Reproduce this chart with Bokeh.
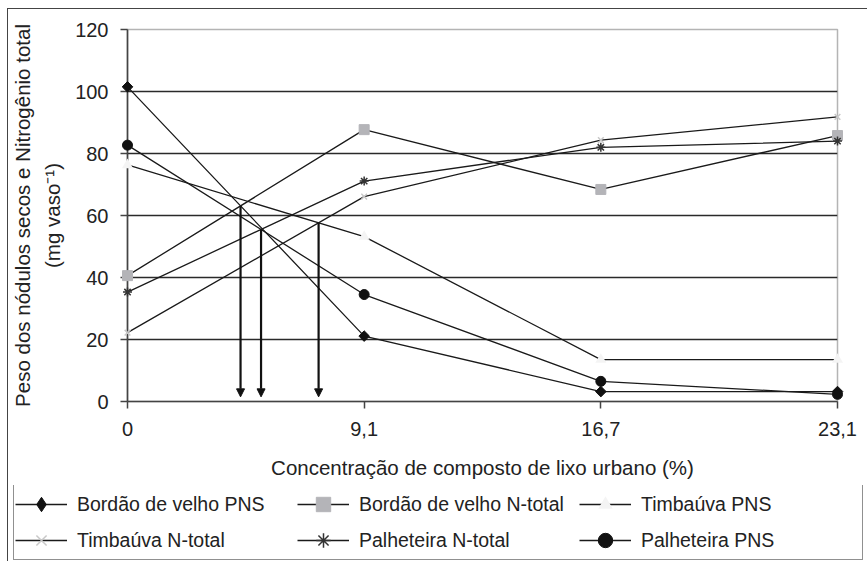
from bokeh.plotting import figure
from bokeh.layouts import column
from bokeh.models import FixedTicker, Legend, LegendItem, Arrow, NormalHead, Range1d
from bokeh.embed import file_html
from bokeh.resources import INLINE
import math

# ---- data ----
x_labels = ["0", "9,1", "16,7", "23,1"]
bordao_pns = [101.5, 21.1, 3.2, 3.2]
bordao_nt = [40.6, 87.7, 68.4, 85.8]
timbauva_pns = [76.3, 53.2, 13.5, 13.5]
timbauva_nt = [22.2, 66.1, 84.3, 91.8]
palheteira_nt = [35.3, 71.1, 82.0, 84.0]
palheteira_pns = [82.7, 34.5, 6.5, 2.3]
y_ticks = [0, 20, 40, 60, 80, 100, 120]

series_names = ["Bordão de velho PNS", "Bordão de velho N-total", "Timbaúva PNS",
                "Timbaúva N-total", "Palheteira N-total", "Palheteira PNS"]
series_values = [bordao_pns, bordao_nt, timbauva_pns, timbauva_nt, palheteira_nt, palheteira_pns]

xs = list(range(len(x_labels)))
FONT = "Liberation Sans"

p = figure(frame_width=710, frame_height=372, output_backend="svg", toolbar_location=None,
           x_range=Range1d(xs[0], xs[-1]), y_range=Range1d(y_ticks[0], y_ticks[-1]),
           min_border_left=116, min_border_right=32, min_border_top=20, min_border_bottom=84)
p.background_fill_color = "white"
p.border_fill_color = "white"
p.outline_line_color = "#b4b4b4"
p.outline_line_width = 1.5

# axes
for ax in (p.xaxis[0], p.yaxis[0]):
    ax.axis_line_color = "#444444"
    ax.axis_line_width = 1.6
    ax.major_tick_line_color = "#444444"
    ax.major_tick_line_width = 1.5
    ax.major_tick_out = 7
    ax.major_tick_in = 0
    ax.minor_tick_line_color = None
    ax.major_label_text_font = FONT
    ax.major_label_text_font_size = "20px"
    ax.major_label_text_color = "#222222"
    ax.axis_label_text_font = FONT
    ax.axis_label_text_font_size = "20.5px"
    ax.axis_label_text_font_style = "normal"
    ax.axis_label_text_color = "#222222"

p.xaxis.ticker = FixedTicker(ticks=xs)
p.xaxis.major_label_overrides = {i: lab for i, lab in zip(xs, x_labels)}
p.xaxis.major_label_standoff = 13
p.xaxis.axis_label = "Concentração de composto de lixo urbano (%)"
p.xaxis.axis_label_standoff = 17

p.yaxis.ticker = FixedTicker(ticks=y_ticks)
p.yaxis.major_label_standoff = 12
p.yaxis.axis_label = "Peso dos nódulos secos e Nitrogênio total\n(mg vaso⁻¹)"
p.yaxis.axis_label_standoff = 8
p.yaxis.axis_label_text_line_height = 1.3

p.xgrid.visible = False
p.ygrid.ticker = FixedTicker(ticks=y_ticks[1:-1])
p.ygrid.grid_line_color = "#2a2a2a"
p.ygrid.grid_line_width = 1.3

marker_styles = [
    dict(marker="square", size=7.5, angle=math.pi / 4, fill_color="#111111", line_color="#111111"),
    dict(marker="square", size=10, fill_color="#b4b4b8", line_color="#b4b4b8"),
    dict(marker="triangle", size=11, fill_color="#f4f4f4", line_color=None),
    dict(marker="x", size=8, line_color="#c8c8c8", line_width=1.5),
    dict(marker="asterisk", size=9, line_color="#333333", line_width=1.5),
    dict(marker="circle", size=10, fill_color="#111111", line_color="#111111"),
]
legend_marker_styles = [dict(marker="diamond", size=12, fill_color="#111111", line_color="#111111")] + [
    dict(st, size=st["size"] - 1) for st in marker_styles[1:]]
LINE = dict(line_color="#1a1a1a", line_width=1.3)

for vals in series_values:
    p.line(xs, vals, **LINE)
for vals, st in zip(series_values, marker_styles):
    p.scatter(xs, vals, level="overlay", **st)

# arrows at intersections of PNS and N-total of each species (first segment)
pairs = [(bordao_pns, bordao_nt), (palheteira_pns, palheteira_nt), (timbauva_pns, timbauva_nt)]
for a, b in pairs:
    d0 = a[0] - b[0]
    d1 = a[1] - b[1]
    t = d0 / (d0 - d1)
    xi = xs[0] + t * (xs[1] - xs[0])
    yi = a[0] + t * (a[1] - a[0])
    p.add_layout(Arrow(end=NormalHead(size=8, fill_color="#111111", line_color="#111111"),
                       x_start=xi, y_start=yi, x_end=xi, y_end=1.5,
                       line_width=2.2, line_color="#111111"))

# ---- legend strip (separate figure, same series styles; data kept outside its view) ----
lf = figure(width=858, height=76, output_backend="svg", toolbar_location=None,
            x_range=Range1d(100, 101), y_range=Range1d(0, 1),
            x_axis_type=None, y_axis_type=None,
            min_border_left=0, min_border_right=0, min_border_top=0, min_border_bottom=0)
lf.grid.visible = False
lf.outline_line_color = None
lf.background_fill_color = "white"
lf.border_fill_color = "white"

items = []
for name, vals, st in zip(series_names, series_values, legend_marker_styles):
    lr = lf.line(xs, vals, **LINE)
    sr = lf.scatter(xs, vals, **st)
    items.append(LegendItem(label=name, renderers=[lr, sr]))

legend = Legend(items=items, location=(5, 1), orientation="horizontal", ncols=3,
                label_text_font=FONT, label_text_font_size="19.5px", label_text_color="#222222",
                glyph_width=52, glyph_height=36, label_standoff=10, label_width=220,
                spacing=0, padding=1, margin=0,
                border_line_color="#222222", border_line_width=1.5,
                background_fill_color="white", background_fill_alpha=1.0)
lf.add_layout(legend, "center")

layout = column(p, column(lf, spacing=0), spacing=0)
layout.styles = {"margin-left": "7px", "margin-top": "8px",
                 "border-left": "1.5px solid #444444", "border-top": "1.5px solid #444444"}

open("out.html", "w").write(file_html(layout, INLINE))
